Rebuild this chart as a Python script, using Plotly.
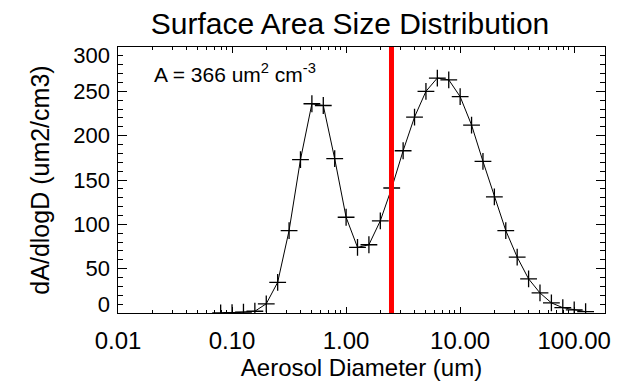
import numpy as np
import plotly.graph_objects as go

# log10 of aerosol diameter (um) for each bin
log_diam = [-1.1, -1.0, -0.9, -0.8, -0.7, -0.6, -0.5, -0.4, -0.3, -0.2, -0.1,
            0.0, 0.1, 0.2, 0.3, 0.4, 0.5, 0.6, 0.7, 0.8, 0.9, 1.0, 1.1, 1.2,
            1.3, 1.4, 1.5, 1.6, 1.7, 1.8, 1.9, 2.0, 2.1]
diameter = [10 ** v for v in log_diam]
dAdlogD = [0.0, 0.3, 1.0, 2.0, 10.4, 34.6, 93.0, 173.0, 236.0, 234.0, 174.0,
           108.0, 74.0, 77.0, 104.0, 141.0, 183.0, 221.0, 250.0, 265.0, 263.0,
           244.0, 212.0, 171.0, 131.0, 93.0, 63.0, 38.5, 22.6, 11.4, 6.0, 3.5, 1.5]
cut_diameter = 2.5

x_ticks = [0.01, 0.1, 1, 10, 100]
x_ticktext = ["0.01", "0.10", "1.00", "10.00", "100.00"]
x_minor = [m * 10.0 ** e for e in range(-2, 3) for m in range(2, 10)]
y_ticks = [0, 50, 100, 150, 200, 250, 300]
y_label_pos = [10, 50, 100, 150, 200, 250, 291]
y_ticktext = ["0", "50", "100", "150", "200", "250", "300"]

FONT = "Liberation Sans, Arial, Helvetica, sans-serif"

fig = go.Figure()
fig.add_trace(go.Scatter(
    x=diameter, y=dAdlogD, mode="lines+markers",
    line=dict(color="black", width=1),
    marker=dict(symbol="cross-thin", size=12, line=dict(color="black", width=1.3)),
    showlegend=False, hoverinfo="skip"))
fig.add_trace(go.Scatter(
    x=[cut_diameter, cut_diameter], y=[0, 300], mode="lines",
    line=dict(color="#ff0000", width=5), showlegend=False, hoverinfo="skip"))
# invisible trace on label axis
fig.add_trace(go.Scatter(x=[diameter[0]], y=[0], yaxis="y2", mode="markers",
                         marker=dict(opacity=0), showlegend=False, hoverinfo="skip"))

fig.update_layout(
    width=625, height=387,
    margin=dict(l=118, r=20, t=47, b=70),
    paper_bgcolor="white", plot_bgcolor="white",
    font=dict(family=FONT, color="black"),
    title=dict(text="Surface Area Size Distribution", x=0.56, xanchor="center",
               y=0.94, yanchor="middle", font=dict(size=30, family=FONT, color="black")),
    xaxis=dict(type="log", range=[-2, 2.27], showgrid=False, zeroline=False,
               showline=True, linecolor="black", linewidth=1, mirror="ticks",
               ticks="inside", ticklen=6, tickwidth=1, tickcolor="black",
               tickmode="array", tickvals=x_ticks, ticktext=x_ticktext,
               tickfont=dict(size=24, family=FONT, color="black"),
               ticklabelstandoff=6,
               minor=dict(ticks="inside", ticklen=3, tickwidth=1, tickcolor="black",
                          tickmode="array", tickvals=x_minor, showgrid=False),
               title=dict(text="Aerosol Diameter (um)", standoff=4,
                          font=dict(size=24, family=FONT, color="black"))),
    yaxis=dict(range=[0, 300], showgrid=False, zeroline=False,
               showline=True, linecolor="black", linewidth=1, mirror="ticks",
               ticks="inside", ticklen=9, tickwidth=1, tickcolor="black",
               tickmode="array", tickvals=y_ticks, showticklabels=False,
               minor=dict(ticks="inside", ticklen=5, tickwidth=1, tickcolor="black",
                          dtick=10, showgrid=False),
               title=dict(text="dA/dlogD (um2/cm3)", standoff=60,
                          font=dict(size=25, family=FONT, color="black"))),
    yaxis2=dict(range=[0, 300], overlaying="y", side="left", showgrid=False,
                zeroline=False, showline=False, ticks="",
                tickmode="array", tickvals=y_label_pos, ticktext=y_ticktext,
                tickfont=dict(size=22, family=FONT, color="black"),
                ticklabelstandoff=7),
)
fig.add_annotation(text="A = 366 um<sup>2</sup> cm<sup>-3</sup>", xref="paper", yref="paper",
                   x=0.07, y=0.96, xanchor="left", yanchor="top", showarrow=False,
                   font=dict(size=21, family=FONT, color="black"))
fig.write_html("out.html")
